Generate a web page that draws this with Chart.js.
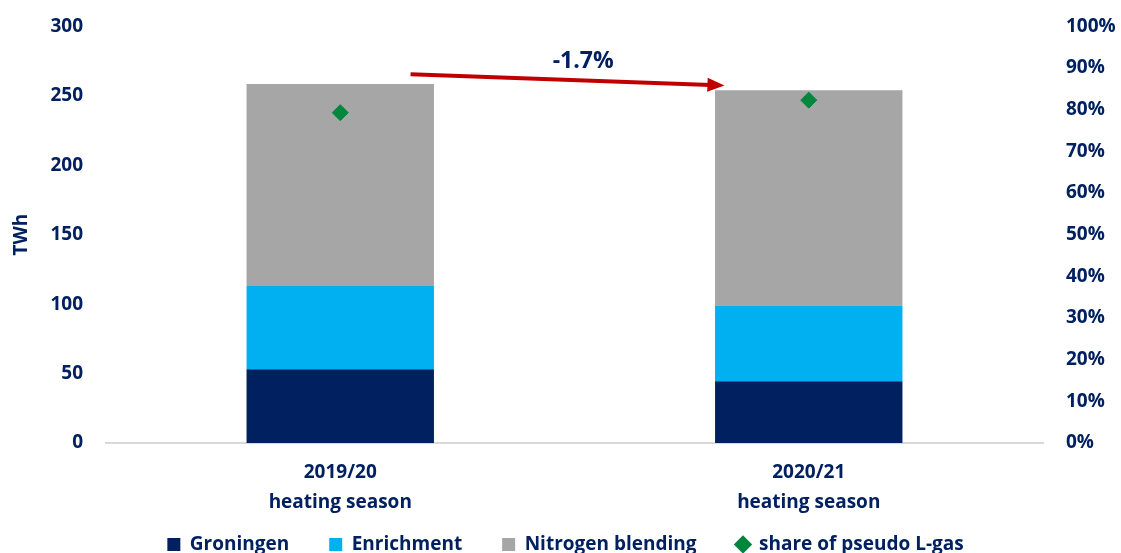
<!DOCTYPE html>
<html>
<head>
<meta charset="utf-8">
<script src="https://cdn.jsdelivr.net/npm/chart.js@4"></script>
<style>
  html, body { margin: 0; padding: 0; background: #fff; }
  #wrap { width: 1121px; height: 553px; }
</style>
</head>
<body>
<div id="wrap"><canvas id="gasChart" width="1121" height="553"></canvas></div>
<script>
// data
const seasons = [["2019/20", "heating season"], ["2020/21", "heating season"]];
const groningen = [53, 44.5];
const enrichment = [60, 54.5];
const nitrogen = [145.5, 155];
const lgasShare = [79.3, 82.3];   // % of pseudo L-gas, right axis
const twhTicks = [0, 50, 100, 150, 200, 250, 300];
const changeLabel = "-1.7%";

const navy = "#002060";
const fontFam = "'Open Sans', sans-serif";
const textFont = { family: fontFam, size: 19, weight: "bold" };
// legend keeps wide gaps between items but takes less vertical room
const legendTrim = 32;
const legendLift = 30;

// red arrow with the change label between the two bars
const arrowPlugin = {
    id: "changeArrow",
    afterDatasetsDraw(chart) {
        const x = chart.scales.x, y = chart.scales.y, c = chart.ctx;
        const step = x.getPixelForValue(1) - x.getPixelForValue(0);
        const x1 = x.getPixelForValue(0) + step * 0.15, y1 = y.getPixelForValue(265.5);
        const x2 = x.getPixelForValue(1) - step * 0.18, y2 = y.getPixelForValue(257.5);
        const ang = Math.atan2(y2 - y1, x2 - x1);
        c.save();
        c.strokeStyle = "#C00000";
        c.fillStyle = "#C00000";
        c.lineWidth = 4;
        c.beginPath();
        c.moveTo(x1, y1);
        c.lineTo(x2 - 14 * Math.cos(ang), y2 - 14 * Math.sin(ang));
        c.stroke();
        c.beginPath();
        c.moveTo(x2, y2);
        c.lineTo(x2 - 17 * Math.cos(ang) + 7 * Math.sin(ang), y2 - 17 * Math.sin(ang) - 7 * Math.cos(ang));
        c.lineTo(x2 - 17 * Math.cos(ang) - 7 * Math.sin(ang), y2 - 17 * Math.sin(ang) + 7 * Math.cos(ang));
        c.closePath();
        c.fill();
        c.font = "bold 23px " + fontFam;
        c.fillStyle = navy;
        c.textAlign = "center";
        c.textBaseline = "middle";
        c.fillText(changeLabel, x1 + (x2 - x1) * 0.55, y.getPixelForValue(274.5));
        c.restore();
    }
};

// shrink the legend box, then let it draw a bit higher
const legendFitPlugin = {
    id: "legendFit",
    beforeLayout(chart) {
        const lg = chart.legend;
        if (lg && !lg._trimmed) {
            const fit = lg.fit;
            lg.fit = function () { fit.call(this); this.height -= legendTrim; };
            lg._trimmed = true;
        }
    },
    afterLayout(chart) {
        chart.legend.top -= legendLift;
    }
};

const ctx = document.getElementById("gasChart").getContext("2d");
const gasChart = new Chart(ctx, {
    type: "bar",
    data: {
        labels: seasons,
        datasets: [
            { type: "line", label: "share of pseudo L-gas", data: lgasShare, yAxisID: "y2",
              showLine: false, pointStyle: "rectRot", pointRadius: 8, pointBackgroundColor: "#00863D",
              pointBorderColor: "#00863D", backgroundColor: "#00863D", borderColor: "#00863D", order: 0 },
            { label: "Groningen", data: groningen, backgroundColor: navy, stack: "s", order: 1 },
            { label: "Enrichment", data: enrichment, backgroundColor: "#00B0F0", stack: "s", order: 1 },
            { label: "Nitrogen blending", data: nitrogen, backgroundColor: "#A6A6A6", stack: "s", order: 1 }
        ]
    },
    options: {
        responsive: false,
        animation: false,
        datasets: { bar: { barPercentage: 0.4, categoryPercentage: 1 } },
        layout: { padding: { top: 5, left: 10, right: 0, bottom: -9 } },
        plugins: {
            tooltip: { enabled: false },
            legend: {
                position: "bottom",
                labels: {
                    usePointStyle: true,
                    boxWidth: 13,
                    boxHeight: 13,
                    padding: 40,
                    color: navy,
                    font: textFont,
                    sort: (a, b) => (a.datasetIndex === 0) - (b.datasetIndex === 0),
                    generateLabels(chart) {
                        return chart.data.datasets.map((d, i) => ({
                            text: d.label,
                            fillStyle: d.backgroundColor,
                            strokeStyle: d.backgroundColor,
                            lineWidth: 0,
                            pointStyle: i === 0 ? "rectRot" : "rect",
                            fontColor: navy,
                            datasetIndex: i
                        }));
                    }
                }
            }
        },
        scales: {
            x: {
                stacked: true,
                grid: { display: false },
                border: { display: true, color: "#D9D9D9", width: 2 },
                ticks: { color: navy, font: { ...textFont, lineHeight: 1.58 }, padding: 7 }
            },
            y: {
                stacked: true,
                position: "left",
                min: 0, max: 300,
                afterBuildTicks: s => { s.ticks = twhTicks.map(v => ({ value: v })); },
                afterFit: s => { s.width = 96; },
                grid: { display: false },
                border: { display: false },
                ticks: { color: navy, font: textFont, padding: 15 },
                title: { display: true, text: "TWh", color: navy, font: textFont, padding: 0 }
            },
            y2: {
                position: "right",
                min: 0, max: 100,
                afterFit: s => { s.width = 78; },
                grid: { display: false },
                border: { display: false },
                ticks: { stepSize: 10, color: navy, font: textFont, padding: 15, callback: v => v + "%" }
            }
        }
    },
    plugins: [arrowPlugin, legendFitPlugin]
});
</script>
</body>
</html>
